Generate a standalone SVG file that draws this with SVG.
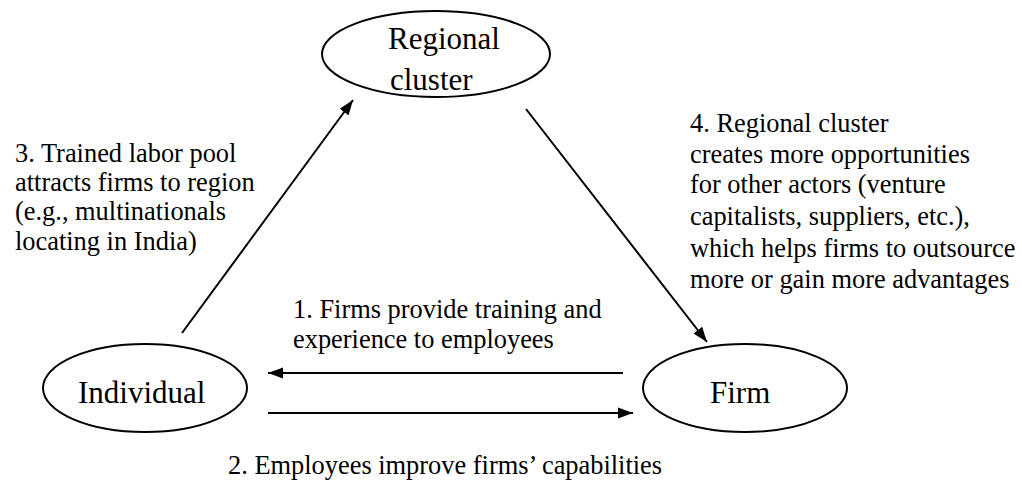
<svg xmlns="http://www.w3.org/2000/svg" width="1022" height="481" viewBox="0 0 1022 481">
<style>
.node{fill:#fff;stroke:#000;stroke-width:2}
.nt{font-family:"Liberation Serif","Times New Roman",serif;font-size:31px;fill:#000}
.lb{font-family:"Liberation Serif","Times New Roman",serif;font-size:26.4px;fill:#000}
.edge{stroke:#000;stroke-width:2;fill:none;marker-end:url(#ah)}
</style>
<defs>
<marker id="ah" markerUnits="userSpaceOnUse" markerWidth="16" markerHeight="12" refX="15" refY="6" orient="auto">
<path d="M0,0.5 L15,6 L0,11.5 Z" fill="#000"/>
</marker>
</defs>
<rect width="1022" height="481" fill="#fff"/>
<g id="connectors">
<line class="edge" x1="623" y1="373" x2="268" y2="373"/>
<line class="edge" x1="268" y1="413" x2="633" y2="413"/>
<line class="edge" x1="182" y1="333" x2="353" y2="100"/>
<line class="edge" x1="526" y1="109" x2="707" y2="342"/>
</g>
<g id="regional-cluster">
<ellipse class="node" cx="436" cy="54" rx="114" ry="43"/>
<text class="nt" x="388" y="49">Regional</text>
<text class="nt" x="390" y="90">cluster</text>
</g>
<g id="individual">
<ellipse class="node" cx="145" cy="388" rx="102" ry="44"/>
<text class="nt" x="78" y="403">Individual</text>
</g>
<g id="firm">
<ellipse class="node" cx="745" cy="388" rx="102" ry="44"/>
<text class="nt" x="710" y="403">Firm</text>
</g>
<g id="labels">
<text class="lb" x="293" y="318">1. Firms provide training and</text>
<text class="lb" x="293" y="348">experience to employees</text>
<text class="lb" x="228" y="474">2. Employees improve firms’ capabilities</text>
<text class="lb" x="15" y="162">3. Trained labor pool</text>
<text class="lb" x="15" y="191">attracts firms to region</text>
<text class="lb" x="15" y="220">(e.g., multinationals</text>
<text class="lb" x="15" y="250">locating in India)</text>
<text class="lb" x="690" y="132">4. Regional cluster</text>
<text class="lb" x="690" y="163">creates more opportunities</text>
<text class="lb" x="690" y="193">for other actors (venture</text>
<text class="lb" x="690" y="225">capitalists, suppliers, etc.),</text>
<text class="lb" x="690" y="257">which helps firms to outsource</text>
<text class="lb" x="690" y="288">more or gain more advantages</text>
</g>
</svg>
